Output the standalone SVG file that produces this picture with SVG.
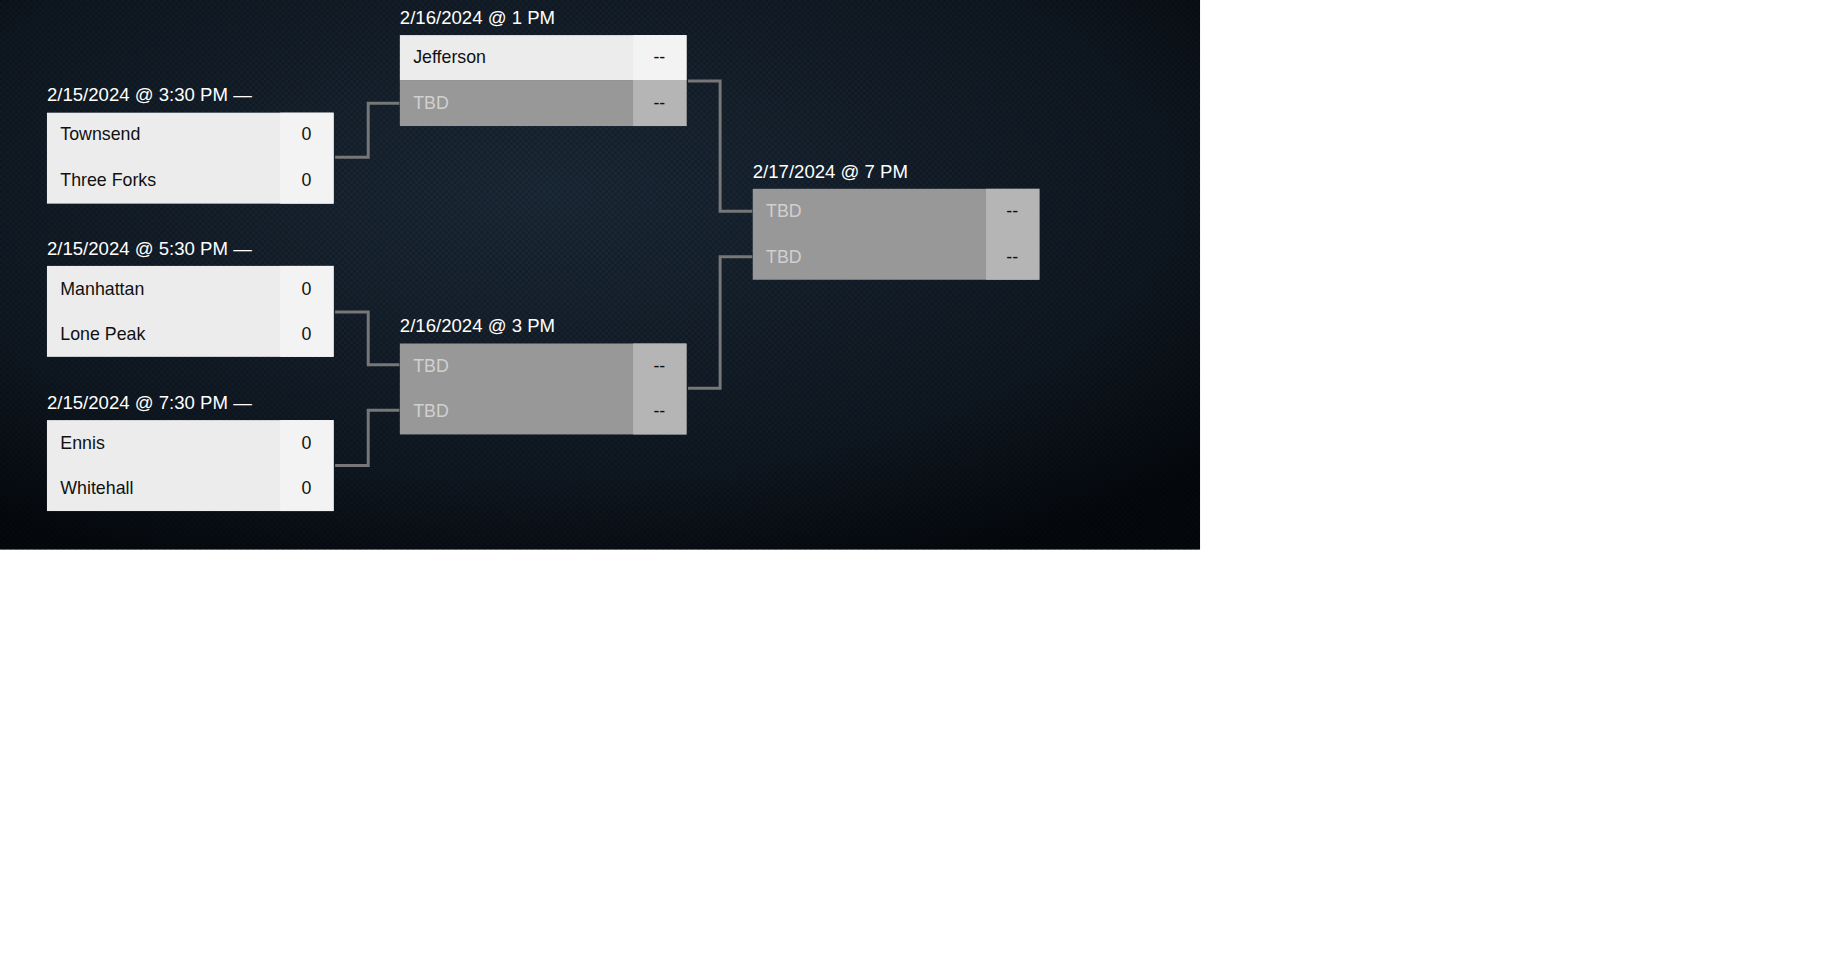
<svg xmlns="http://www.w3.org/2000/svg" width="1839" height="965" viewBox="0 0 1839 965">
<defs>
<radialGradient id="bg" cx="0.45" cy="0.35" r="0.75">
<stop offset="0" stop-color="#1c2a38"/><stop offset="0.7" stop-color="#0f1822"/><stop offset="1" stop-color="#05080c"/>
</radialGradient>
<pattern id="chk" width="6" height="6" patternUnits="userSpaceOnUse"><rect width="3" height="3" fill="#000" opacity="0.18"/><rect x="3" y="3" width="3" height="3" fill="#000" opacity="0.18"/></pattern>
</defs>
<style>
.lbl{font-family:"Liberation Sans",Arial,sans-serif;font-size:18.8px;fill:#fff}
.t{font-family:"Liberation Sans",Arial,sans-serif;font-size:18px;fill:#111}
.tb{font-family:"Liberation Sans",Arial,sans-serif;font-size:18px;fill:#d0d0d0}
.ts{font-family:"Liberation Sans",Arial,sans-serif;font-size:18px;fill:#111;text-anchor:middle}
.lt{fill:#ececec}.ls{fill:#f3f3f3}.dk{fill:#989898}.ds{fill:#b5b5b5}
.c{fill:none;stroke:#777;stroke-width:3}
</style>
<rect width="1839" height="965" fill="#fff"/>
<g transform="scale(0.9885)">
<rect width="1214" height="556" fill="url(#bg)"/>
<rect width="1214" height="556" fill="url(#chk)"/>
<g id="connectors">
<path class="c" d="M339 159H372.5V104.4H404"/>
<path class="c" d="M339 315.6H372.5V369H404"/>
<path class="c" d="M339 471H372.5V415H404"/>
<path class="c" d="M696 82H728.5V213.6H761"/>
<path class="c" d="M696 392.7H728.5V259.8H761"/>
</g>
<g id="m1"><text class="lbl" x="47.5" y="102">2/15/2024 @ 3:30 PM —</text>
<rect class="lt" x="47.5" y="114" width="290" height="92"/><rect class="ls" x="283.5" y="114" width="54" height="92"/>
<text class="t" x="61" y="142">Townsend</text><text class="ts" x="310" y="142">0</text>
<text class="t" x="61" y="188">Three Forks</text><text class="ts" x="310" y="188">0</text></g>
<g id="m2"><text class="lbl" x="47.5" y="258">2/15/2024 @ 5:30 PM —</text>
<rect class="lt" x="47.5" y="269" width="290" height="92"/><rect class="ls" x="283.5" y="269" width="54" height="92"/>
<text class="t" x="61" y="298">Manhattan</text><text class="ts" x="310" y="298">0</text>
<text class="t" x="61" y="344">Lone Peak</text><text class="ts" x="310" y="344">0</text></g>
<g id="m3"><text class="lbl" x="47.5" y="414">2/15/2024 @ 7:30 PM —</text>
<rect class="lt" x="47.5" y="425" width="290" height="92"/><rect class="ls" x="283.5" y="425" width="54" height="92"/>
<text class="t" x="61" y="454">Ennis</text><text class="ts" x="310" y="454">0</text>
<text class="t" x="61" y="500">Whitehall</text><text class="ts" x="310" y="500">0</text></g>
<g id="m4"><text class="lbl" x="404.5" y="24">2/16/2024 @ 1 PM</text>
<rect class="lt" x="404.5" y="35.5" width="290" height="46"/><rect class="ls" x="640.5" y="35.5" width="54" height="46"/>
<rect class="dk" x="404.5" y="81.5" width="290" height="46"/><rect class="ds" x="640.5" y="81.5" width="54" height="46"/>
<text class="t" x="418" y="64">Jefferson</text><text class="ts" x="667" y="64">--</text>
<text class="tb" x="418" y="110">TBD</text><text class="ts" x="667" y="110">--</text></g>
<g id="m5"><text class="lbl" x="404.5" y="336">2/16/2024 @ 3 PM</text>
<rect class="dk" x="404.5" y="347.5" width="290" height="92"/><rect class="ds" x="640.5" y="347.5" width="54" height="92"/>
<text class="tb" x="418" y="376">TBD</text><text class="ts" x="667" y="376">--</text>
<text class="tb" x="418" y="422">TBD</text><text class="ts" x="667" y="422">--</text></g>
<g id="m6"><text class="lbl" x="761.5" y="180">2/17/2024 @ 7 PM</text>
<rect class="dk" x="761.5" y="191" width="290" height="92"/><rect class="ds" x="997.5" y="191" width="54" height="92"/>
<text class="tb" x="775" y="220">TBD</text><text class="ts" x="1024" y="220">--</text>
<text class="tb" x="775" y="266">TBD</text><text class="ts" x="1024" y="266">--</text></g>
</g>
</svg>
